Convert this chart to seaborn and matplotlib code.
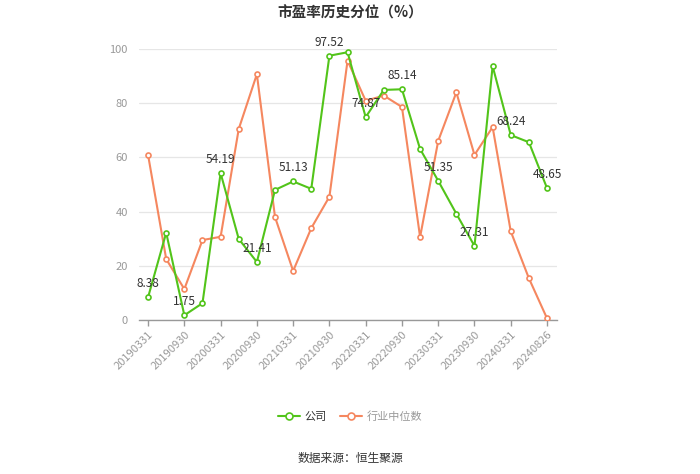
import matplotlib
matplotlib.use("Agg")
import matplotlib.pyplot as plt
import seaborn as sns
import pandas as pd
from matplotlib.lines import Line2D

dates = ["20190331", "20190630", "20190930", "20191231", "20200331", "20200630",
         "20200930", "20201231", "20210331", "20210630", "20210930", "20211231",
         "20220331", "20220630", "20220930", "20221231", "20230331", "20230630",
         "20230930", "20231231", "20240331", "20240630", "20240826"]
company = [8.38, 32.2, 1.75, 6.2, 54.19, 29.9, 21.41, 48.0, 51.13, 48.4, 97.52, 98.8,
           74.87, 84.9, 85.14, 63.1, 51.35, 39.2, 27.31, 93.7, 68.24, 65.6, 48.65]
industry = [60.9, 22.5, 11.4, 29.5, 30.7, 70.5, 90.7, 38.0, 18.1, 33.9, 45.5, 95.7,
            80.9, 82.8, 78.6, 30.6, 66.1, 84.0, 60.9, 71.2, 32.7, 15.4, 0.6]
series_names = ["公司", "行业中位数"]
yticks = [0, 20, 40, 60, 80, 100]

sns.set_theme(style="white")
plt.rcParams["font.family"] = ["Noto Sans CJK SC", "DejaVu Sans"]

GREEN = "#52c41a"
ORANGE = "#f5875f"

fig = plt.figure(figsize=(7.0, 4.74), dpi=100)
ax = fig.add_axes([139 / 700, 1 - 320 / 474, (557 - 139) / 700, (320 - 49) / 474])

idx = list(range(len(dates)))
df = pd.DataFrame({"i": idx, "company": company, "industry": industry})

sns.lineplot(data=df, x="i", y="industry", ax=ax, color=ORANGE, linewidth=1.5,
             marker="o", markersize=3.6, markerfacecolor="white",
             markeredgecolor=ORANGE, markeredgewidth=1.2, zorder=3)
sns.lineplot(data=df, x="i", y="company", ax=ax, color=GREEN, linewidth=1.5,
             marker="o", markersize=3.6, markerfacecolor="white",
             markeredgecolor=GREEN, markeredgewidth=1.2, zorder=4)

for i in range(0, len(dates), 2):
    ax.annotate(f"{company[i]:.2f}", (i, company[i]), xytext=(0, 5),
                textcoords="offset points", ha="center", va="bottom",
                fontsize=8.5, color="#333333", zorder=5)

tick_idx = idx[::2]
ax.set_xlim(-0.5, 22.55)
ax.set_ylim(0, 100)
ax.set_yticks(yticks)
ax.set_yticklabels([str(v) for v in yticks])
ax.set_xticks(tick_idx)
ax.set_xticklabels([dates[i] for i in tick_idx], rotation=45, ha="right",
                   rotation_mode="anchor")
ax.set_xlabel("")
ax.set_ylabel("")
ax.grid(axis="y", color="#e6e6e6", linewidth=0.9)
ax.set_axisbelow(True)
for s in ["top", "right", "left"]:
    ax.spines[s].set_visible(False)
ax.spines["bottom"].set_color("#999999")
ax.spines["bottom"].set_linewidth(1.0)
ax.tick_params(axis="x", colors="#999999", labelsize=8, length=4, width=1,
               direction="out", bottom=True, labelcolor="#999999", pad=3)
ax.tick_params(axis="y", colors="#999999", labelsize=8, length=0, pad=8)

fig.text(0.5, 1 - 13 / 474, "市盈率历史分位（%）", ha="center", va="center",
         fontsize=10.5, fontweight="bold", color="#333333")

handles = [
    Line2D([0], [0], color=GREEN, linewidth=1.5, marker="o", markersize=5,
           markerfacecolor="white", markeredgecolor=GREEN, markeredgewidth=1.2),
    Line2D([0], [0], color=ORANGE, linewidth=1.5, marker="o", markersize=5,
           markerfacecolor="white", markeredgecolor=ORANGE, markeredgewidth=1.2),
]
leg = fig.legend(handles, series_names, loc="center", bbox_to_anchor=(0.5, 1 - 417 / 474),
                 ncol=2, frameon=False, fontsize=8, handlelength=2.0,
                 columnspacing=1.2, handletextpad=0.4)
for t, c in zip(leg.get_texts(), ["#333333", "#999999"]):
    t.set_color(c)

fig.text(0.5, 1 - 458 / 474, "数据来源：恒生聚源", ha="center", va="center",
         fontsize=8.5, color="#333333")

fig.savefig("out.png", dpi=100)
